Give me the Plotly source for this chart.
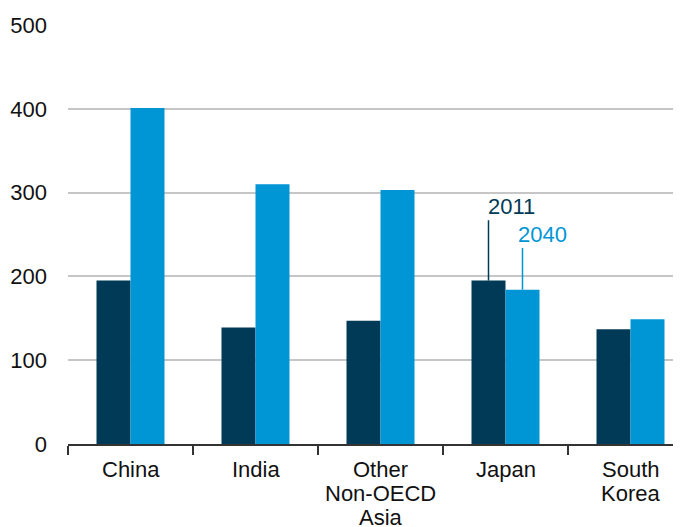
import plotly.graph_objects as go

categories = ["China", "India", "Other Non-OECD Asia", "Japan", "South Korea"]
label_lines = [["China"], ["India"], ["Other", "Non-OECD", "Asia"], ["Japan"], ["South", "Korea"]]
values_2011 = [195, 139, 147, 195, 137]
values_2040 = [401, 310, 303, 184, 149]
y_ticks = [0, 100, 200, 300, 400, 500]

DARK = "#003a57"
BLUE = "#0096d6"
FONT = "Liberation Sans, Arial, sans-serif"
FS = 22

fig = go.Figure()
fig.add_trace(go.Bar(x=categories, y=values_2011, name="2011",
                     marker_color=DARK, marker_line_width=0))
fig.add_trace(go.Bar(x=categories, y=values_2040, name="2040",
                     marker_color=BLUE, marker_line_width=0))

# category labels (one annotation per line, tight line spacing)
for i, lines in enumerate(label_lines):
    for j, line in enumerate(lines):
        fig.add_annotation(x=i, y=0, xref="x", yref="paper", text=line,
                           showarrow=False, xanchor="center", yanchor="middle",
                           yshift=-25 - 24 * j,
                           font=dict(family=FONT, size=FS, color="#111111"))

off = 0.136
# leader lines for Japan
fig.add_shape(type="line", xref="x", yref="y", x0=3 - off, x1=3 - off,
              y0=values_2011[3], y1=267, line=dict(color=DARK, width=1.5))
fig.add_shape(type="line", xref="x", yref="y", x0=3 + off, x1=3 + off,
              y0=values_2040[3], y1=234, line=dict(color=BLUE, width=1.5))
fig.add_annotation(x=3 - off - 0.02, y=283, xref="x", yref="y", text="2011",
                   showarrow=False, xanchor="left", yanchor="middle",
                   font=dict(family=FONT, size=FS, color=DARK))
fig.add_annotation(x=3 + off - 0.05, y=250, xref="x", yref="y", text="2040",
                   showarrow=False, xanchor="left", yanchor="middle",
                   font=dict(family=FONT, size=FS, color=BLUE))

fig.update_layout(
    width=673, height=519,
    margin=dict(l=60, r=0, t=17, b=83),
    plot_bgcolor="white", paper_bgcolor="white",
    barmode="group", bargap=0.456, bargroupgap=0,
    showlegend=False,
    font=dict(family=FONT, size=FS, color="#111111"),
    xaxis=dict(
        type="category", range=[-0.5, 4.404], showgrid=False, zeroline=False,
        showline=True, linecolor="#333333", linewidth=1.5,
        ticks="outside", ticklen=9, tickcolor="#333333", tickwidth=1.5,
        tickson="boundaries", showticklabels=False, automargin=False,
    ),
    yaxis=dict(
        range=[0, 500], tickvals=y_ticks, showgrid=True, gridcolor="#c6c6c6",
        gridwidth=1.5, zeroline=False, showline=False, ticks="",
        tickfont=dict(size=FS), ticklabelstandoff=20, automargin=False,
    ),
)

fig.write_html("out.html")
